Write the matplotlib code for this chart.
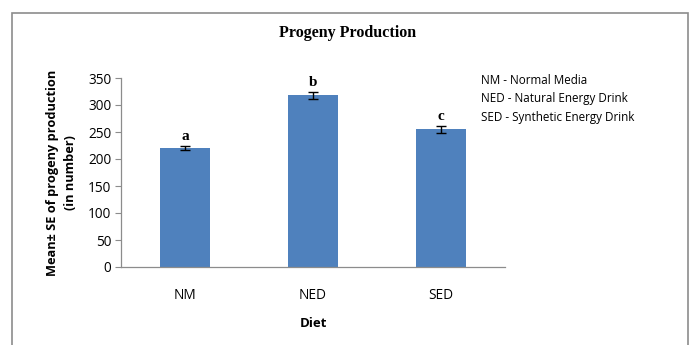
import matplotlib
matplotlib.use("Agg")
import matplotlib.pyplot as plt
from matplotlib.patches import Rectangle

diets = ["NM", "NED", "SED"]
means = [221, 318, 255]
errors = [4, 6, 6]
letters = ["a", "b", "c"]
legend_lines = ["NM - Normal Media", "NED - Natural Energy Drink", "SED - Synthetic Energy Drink"]
yticks = [0, 50, 100, 150, 200, 250, 300, 350]

sans = ["Open Sans", "DejaVu Sans"]
serif = ["Liberation Serif", "DejaVu Serif"]
W, H = 691, 345
fig = plt.figure(figsize=(W / 100, H / 100), dpi=100)
fig.patch.set_facecolor("white")

# outer chart frame
fig.add_artist(Rectangle((12 / W, -0.05), 676 / W, 1.05 - 13 / H,
                         transform=fig.transFigure, fill=False,
                         edgecolor="#8c8c8c", linewidth=1.2))

ax = fig.add_axes([121 / W, 1 - 267 / H, 384 / W, 189 / H])
x = list(range(len(diets)))
ax.bar(x, means, width=50 / 128, color="#4f81bd", zorder=2)
ax.errorbar(x, means, yerr=errors, fmt="none", ecolor="black",
            elinewidth=1, capsize=3.5, capthick=1, zorder=3)
for xi, m, e, lab in zip(x, means, errors, letters):
    ax.text(xi, m + e + 5, lab, ha="center", va="bottom",
            family=serif, fontsize=11, fontweight="bold")

ax.set_xlim(-0.5, len(diets) - 0.5)
ax.set_ylim(0, 350)
ax.set_yticks(yticks)
ax.set_xticks(x)
ax.set_xticklabels(diets, family=sans, fontsize=9.8)
ax.set_yticklabels([str(v) for v in yticks], family=sans, fontsize=9.8)
ax.tick_params(axis="x", length=0, pad=15)
ax.tick_params(axis="y", length=4, width=0.8, color="#8c8c8c", pad=3)
for s in ["top", "right"]:
    ax.spines[s].set_visible(False)
for s in ["left", "bottom"]:
    ax.spines[s].set_color("#8c8c8c")
    ax.spines[s].set_linewidth(0.9)

ax.set_xlabel("Diet", family=sans, fontsize=9.5, fontweight="bold", labelpad=10)
ax.set_ylabel("Mean\u00b1 SE of progeny production\n(in number)", family=sans,
              fontsize=9.2, fontweight="bold", labelpad=8, linespacing=1.45)

fig.text(348 / W, 1 - 33 / H, "Progeny Production", ha="center", va="center",
         family=serif, fontsize=11.5, fontweight="bold")

for i, line in enumerate(legend_lines):
    fig.text(481 / W, 1 - (80 + 18.5 * i) / H, line, ha="left", va="center",
             family=sans, fontsize=8.4)

fig.savefig("out.png", dpi=100, facecolor="white")
